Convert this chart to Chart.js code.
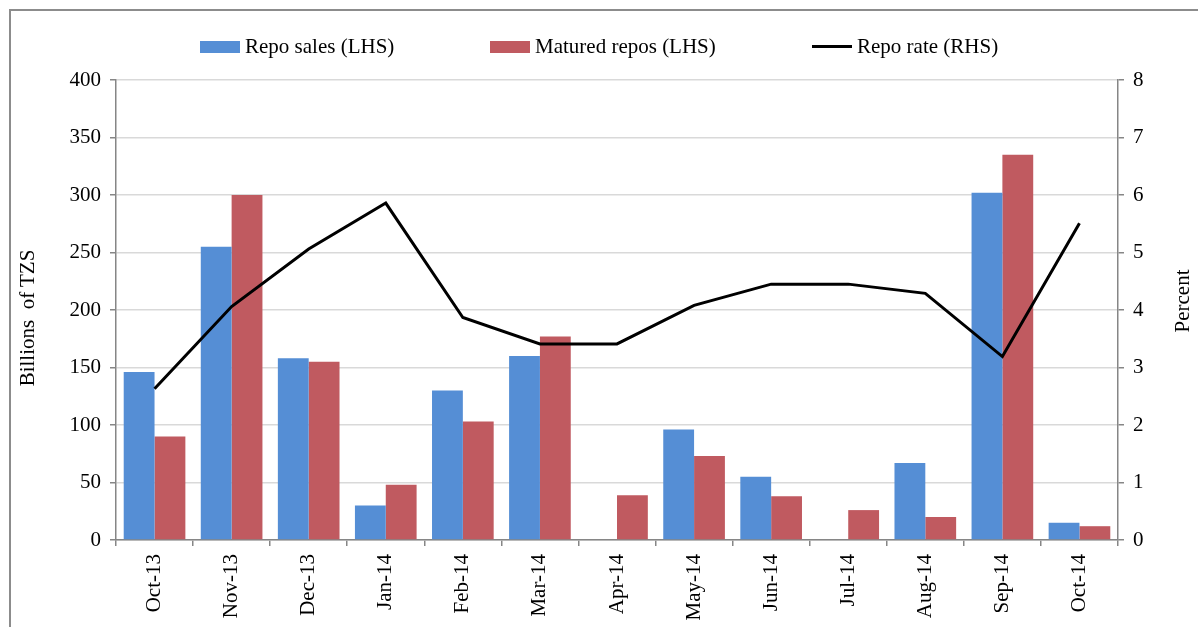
<!DOCTYPE html>
<html>
<head>
<meta charset="utf-8">
<script src="https://cdn.jsdelivr.net/npm/chart.js@4"></script>
<style>
    body { margin: 0; background: #fff; }
    #wrap { position: relative; width: 1198px; height: 627px; overflow: hidden; }
    #frame { position: absolute; left: 9px; top: 9px; width: 1300px; height: 700px;
             border-left: 2px solid #8c8c8c; border-top: 2px solid #8c8c8c; pointer-events: none; }
    .legend { position: absolute; top: 34px; font: 21px "Liberation Serif", serif; color: #000;
              display: flex; align-items: center; white-space: nowrap; }
    .legend .box { width: 40px; height: 12px; margin-right: 5px; }
    .legend .line { width: 40px; height: 3px; background: #000; margin-right: 5px; }
    .axtitle { position: absolute; font: 21px "Liberation Serif", serif; color: #000;
               white-space: nowrap; transform: translate(-50%, -50%) rotate(-90deg); }
</style>
</head>
<body>
<div id="wrap">
    <canvas id="chart"></canvas>
    <div id="frame"></div>
    <div class="legend" style="left:200px"><span class="box" style="background:#558ED5"></span>Repo sales (LHS)</div>
    <div class="legend" style="left:490px"><span class="box" style="background:#C05A60"></span>Matured repos (LHS)</div>
    <div class="legend" style="left:812px"><span class="line"></span>Repo rate (RHS)</div>
    <div class="axtitle" style="left:27px; top:318px">Billions&nbsp; of TZS</div>
    <div class="axtitle" style="left:1182px; top:301px">Percent</div>
</div>
<script>
const months = ['Oct-13', 'Nov-13', 'Dec-13', 'Jan-14', 'Feb-14', 'Mar-14', 'Apr-14',
                'May-14', 'Jun-14', 'Jul-14', 'Aug-14', 'Sep-14', 'Oct-14'];
const repoSales = [146, 255, 158, 30, 130, 160, 0, 96, 55, 0, 67, 302, 15];
const maturedRepos = [90, 300, 155, 48, 103, 177, 39, 73, 38, 26, 20, 335, 12];
const repoRate = [2.63, 4.06, 5.06, 5.86, 3.87, 3.41, 3.41, 4.08, 4.45, 4.45, 4.29, 3.19, 5.51];

const axisGray = '#868686';
const font = { family: '"Liberation Serif", serif', size: 21 };

new Chart(document.getElementById('chart'), {
    type: 'bar',
    data: {
        labels: months,
        datasets: [
            {
                label: 'Repo sales (LHS)',
                data: repoSales,
                backgroundColor: '#558ED5',
                yAxisID: 'y',
                order: 1
            },
            {
                label: 'Matured repos (LHS)',
                data: maturedRepos,
                backgroundColor: '#C05A60',
                yAxisID: 'y',
                order: 1
            },
            {
                type: 'line',
                label: 'Repo rate (RHS)',
                data: repoRate,
                borderColor: '#000',
                borderWidth: 3,
                pointRadius: 0,
                tension: 0,
                yAxisID: 'y1',
                order: 0
            }
        ]
    },
    options: {
        responsive: true,
        maintainAspectRatio: false,
        animation: false,
        layout: { padding: { top: 80, left: 0, right: 0, bottom: 0 } },
        plugins: {
            legend: { display: false },
            tooltip: { enabled: false }
        },
        datasets: {
            bar: { categoryPercentage: 0.8, barPercentage: 1.0 }
        },
        scales: {
            x: {
                offset: true,
                afterFit: scale => { scale.height = 87; },
                grid: { display: true, drawOnChartArea: false, tickLength: 6, tickColor: axisGray, lineWidth: 1.5 },
                border: { color: axisGray, width: 1.5 },
                ticks: { color: '#000', font: font, autoSkip: false, maxRotation: 90, minRotation: 90, padding: 8 }
            },
            y: {
                position: 'left',
                min: 0,
                max: 400,
                afterFit: scale => { scale.width = 116; },
                grid: { color: '#d9d9d9', lineWidth: 1.5, tickLength: 6, tickColor: axisGray },
                border: { color: axisGray, width: 1.5 },
                ticks: { stepSize: 50, color: '#000', font: font, padding: 9 }
            },
            y1: {
                position: 'right',
                min: 0,
                max: 8,
                afterFit: scale => { scale.width = 80; },
                grid: { drawOnChartArea: false, tickLength: 6, tickColor: axisGray, lineWidth: 1.5 },
                border: { color: axisGray, width: 1.5 },
                ticks: { stepSize: 1, color: '#000', font: font, padding: 9 }
            }
        }
    }
});
</script>
</body>
</html>
